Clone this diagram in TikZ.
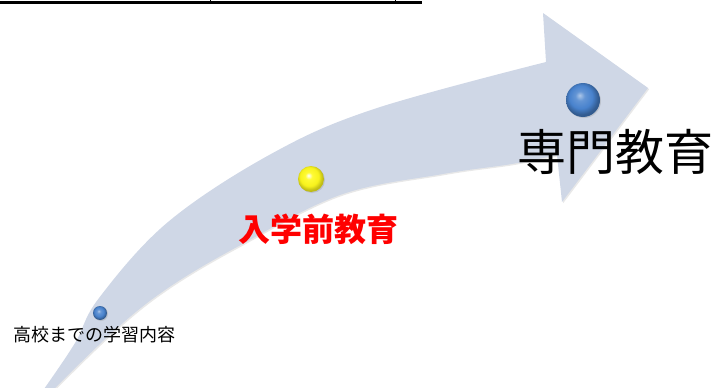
\documentclass[tikz,border=0pt]{standalone}
\usepackage{fontspec}
\newfontfamily\jpfont{Noto Sans CJK JP}
\usetikzlibrary{shadows}
\definecolor{arrowfill}{RGB}{207,215,230}
\definecolor{bb}{RGB}{72,130,205}
\definecolor{yy}{RGB}{255,250,30}
\pgfdeclareradialshading{blueball}{\pgfqpoint{-5bp}{7bp}}{color(0bp)=(bb!45!white); color(7bp)=(bb!85!white); color(17bp)=(bb); color(25bp)=(bb!70!black); color(50bp)=(bb!70!black)}
\pgfdeclareradialshading{yellowball}{\pgfqpoint{-5bp}{7bp}}{color(0bp)=(white); color(7bp)=(yy!90!white); color(18bp)=(yy!97!black); color(25bp)=(yy!75!black); color(50bp)=(yy!75!black)}
\tikzset{
  ballstyle/.style={circle, inner sep=0pt, drop shadow={opacity=0.25, shadow xshift=1pt, shadow yshift=-1pt}},
  lbl/.style={inner sep=0pt, font=\jpfont},
}
\begin{document}
\begin{tikzpicture}[x=1pt,y=-1pt]
\useasboundingbox (0,0) rectangle (721,388);
% top rule
\draw[line width=2.7pt] (0,2.8) -- (422,2.8);
\draw[line width=0.7pt] (210,0) -- (210,2.8);
\draw[line width=0.7pt] (395,0) -- (395,2.8);
% curved arrow
\fill[arrowfill, drop shadow={opacity=0.18, shadow xshift=1.2pt, shadow yshift=-1.2pt}]
  plot[smooth, tension=0.6] coordinates {(44,389) (75,343) (99,298) (168,222) (271,154) (374,109) (546,62)}
  -- (543,13) -- (648,88) -- (562,202) -- (557,155)
  -- plot[smooth, tension=0.6] coordinates {(557,155) (512,164) (443,174) (340,195) (237,247) (168,288) (116,329) (54,389)}
  -- cycle;
% balls
\node[ballstyle, shading=blueball, minimum size=14pt] (b1) at (100,313) {};
\node[ballstyle, shading=yellowball, minimum size=26pt] (b2) at (311,179) {};
\node[ballstyle, shading=blueball, minimum size=34pt] (b3) at (583,100) {};
% labels
\node[lbl, font=\jpfont\fontsize{18}{20}\selectfont] (t1) at (94,335) {高校までの学習内容};
\node[lbl, text=red, font=\jpfont\bfseries\fontsize{32}{34}\selectfont] (t2) at (318,229) {入学前教育};
\node[lbl, font=\jpfont\fontsize{49}{52}\selectfont] (t3) at (615,152) {専門教育};
\end{tikzpicture}
\end{document}
